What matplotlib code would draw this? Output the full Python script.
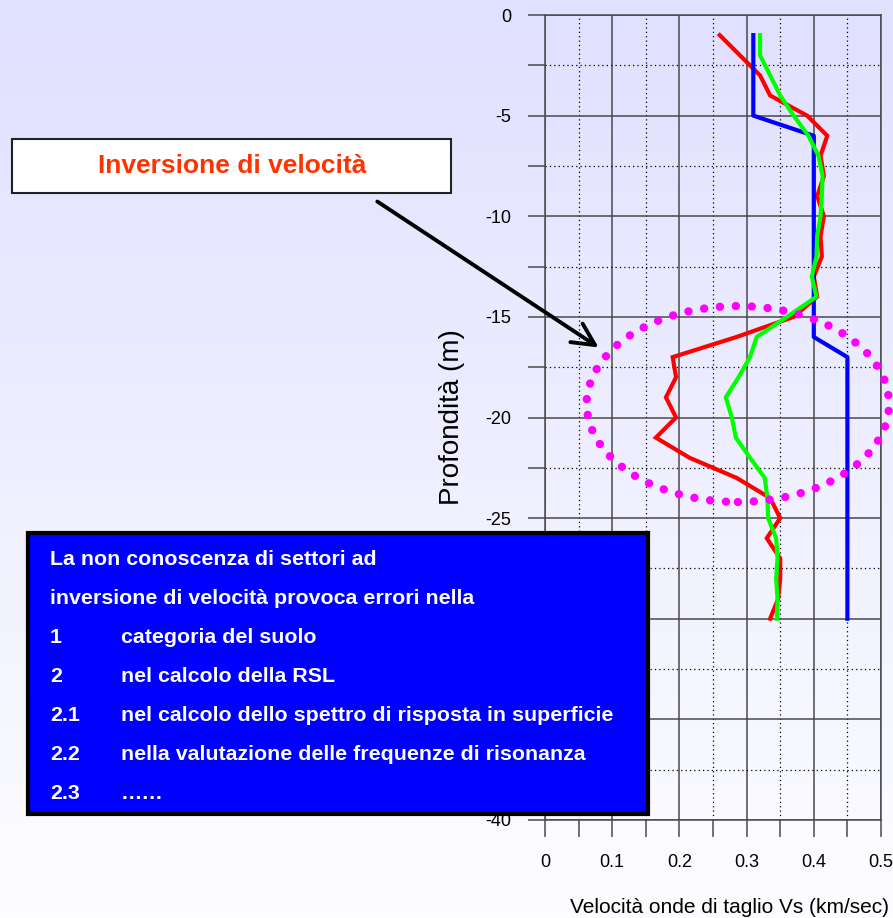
import matplotlib
matplotlib.use("Agg")
import matplotlib.pyplot as plt
from matplotlib.patches import Ellipse, Rectangle, FancyArrowPatch
from matplotlib.ticker import MultipleLocator
import numpy as np

plt.rcParams['font.family'] = ['Liberation Sans', 'DejaVu Sans']
plt.rcParams['axes.unicode_minus'] = False

# profilo Vs "reale" (blu)
blue_depth = [-1, -5, -6, -16, -17, -30]
blue_vs = [0.31, 0.31, 0.40, 0.40, 0.45, 0.45]

# profilo rosso
red_depth = [-1, -2, -3, -4, -5, -6, -7, -8, -9, -10, -11, -12, -13, -14, -15,
             -16, -17, -18, -19, -20, -21, -22, -23, -24, -25, -26, -27, -28, -29, -30]
red_vs = [0.26, 0.29, 0.32, 0.335, 0.39, 0.42, 0.41, 0.415, 0.405, 0.415, 0.41, 0.412, 0.40, 0.405, 0.37,
          0.285, 0.19, 0.195, 0.18, 0.195, 0.165, 0.215, 0.285, 0.335, 0.35, 0.33, 0.35, 0.35, 0.347, 0.335]

# profilo verde
green_depth = red_depth
green_vs = [0.32, 0.32, 0.335, 0.35, 0.37, 0.392, 0.407, 0.413, 0.412, 0.41, 0.405, 0.404, 0.397, 0.404, 0.36,
            0.315, 0.305, 0.288, 0.269, 0.278, 0.284, 0.305, 0.327, 0.331, 0.332, 0.344, 0.346, 0.344, 0.346, 0.345]

# zona di inversione evidenziata
ell_center = (0.287, -19.33)
ell_width = 0.45
ell_height = 9.74

box_lines = [
    ("La non conoscenza di settori ad", ""),
    ("inversione di velocità provoca errori nella", ""),
    ("1", "categoria del suolo"),
    ("2", "nel calcolo della RSL"),
    ("2.1", "nel calcolo dello spettro di risposta in superficie"),
    ("2.2", "nella valutazione delle frequenze di risonanza"),
    ("2.3", "……"),
]

W, H = 893, 918
fig = plt.figure(figsize=(W / 100, H / 100), dpi=100)

# sfondo sfumato
bg = fig.add_axes([0, 0, 1, 1], zorder=-10)
top = np.array([224, 224, 255]) / 255
bot = np.array([253, 253, 255]) / 255
t = np.linspace(0, 1, 256)[:, None]
grad = top[None, :] * (1 - t) + bot[None, :] * t
bg.imshow(grad[:, None, :], aspect='auto', extent=[0, 1, 0, 1])
bg.axis('off')

def fx(px):
    return px / W

def fy(py):
    return 1 - py / H

ax = fig.add_axes([fx(545), fy(820), fx(881) - fx(545), fy(15) - fy(820)])
ax.set_facecolor('none')

ax.plot(red_vs, red_depth, color='#FF0000', lw=3, solid_joinstyle='miter', zorder=3)
ax.plot(blue_vs, blue_depth, color='#0000FF', lw=3, zorder=4)
ax.plot(green_vs, green_depth, color='#00FF00', lw=3, zorder=5)

ell = Ellipse(ell_center, ell_width, ell_height, fill=False, edgecolor='#FF00FF',
              lw=6, linestyle=(0, (0.01, 1.9)), capstyle='round', clip_on=False, zorder=6)
ax.add_patch(ell)

ax.set_xlim(0, 0.5)
ax.set_ylim(-40, 0)
ax.xaxis.set_major_locator(MultipleLocator(0.1))
ax.xaxis.set_minor_locator(MultipleLocator(0.05))
ax.yaxis.set_major_locator(MultipleLocator(5))
ax.yaxis.set_minor_locator(MultipleLocator(2.5))
ax.set_xticks([0, 0.1, 0.2, 0.3, 0.4, 0.5])
ax.set_xticklabels(['0', '0.1', '0.2', '0.3', '0.4', '0.5'])

ax.grid(which='major', color='#4a4a4a', lw=1.1)
ax.grid(which='minor', color='black', lw=0.9, linestyle=(0, (1, 2.5)))
ax.set_axisbelow(True)
for s in ax.spines.values():
    s.set_color('#4a4a4a')
    s.set_linewidth(1.1)
ax.tick_params(which='both', direction='out', length=12.5, width=1.1, color='#4a4a4a')
ax.tick_params(axis='y', which='major', labelsize=13, pad=12)
ax.tick_params(axis='x', which='major', labelsize=13, pad=12)

fig.text(fx(452), fy(417), 'Profondità (m)', rotation=90, ha='center', va='center', fontsize=20)
fig.text(fx(730), fy(913), 'Velocità onde di taglio Vs (km/sec)', ha='center', va='baseline', fontsize=15)

# riquadro titolo
fig.patches.append(Rectangle((fx(12), fy(193)), fx(451) - fx(12), fy(139) - fy(193),
                             transform=fig.transFigure, facecolor='white', edgecolor='#222222',
                             lw=1.5, zorder=1))
fig.text(fx(232), fy(166), 'Inversione di velocità', ha='center', va='center',
         fontsize=19, fontweight='bold', color='#FF3300', zorder=3)

arrow = FancyArrowPatch((fx(375), fy(200)), (fx(601), fy(349)), transform=fig.transFigure,
                        arrowstyle='->,head_length=0.8,head_width=0.4', mutation_scale=20,
                        color='black', lw=2.8, zorder=2)
fig.patches.append(arrow)

# riquadro blu
fig.patches.append(Rectangle((fx(28), fy(814)), fx(648) - fx(28), fy(533) - fy(814),
                             transform=fig.transFigure, facecolor='#0000FF', edgecolor='black',
                             lw=3, zorder=1))
for i, (a, b) in enumerate(box_lines):
    yb = fy(565 + 39 * i)
    fig.text(fx(50), yb, a, ha='left', va='baseline', fontsize=15.4, fontweight='bold',
             color='white', zorder=3)
    if b:
        fig.text(fx(121), yb, b, ha='left', va='baseline', fontsize=15.4, fontweight='bold',
                 color='white', zorder=3)

fig.savefig('out.png', dpi=100)
